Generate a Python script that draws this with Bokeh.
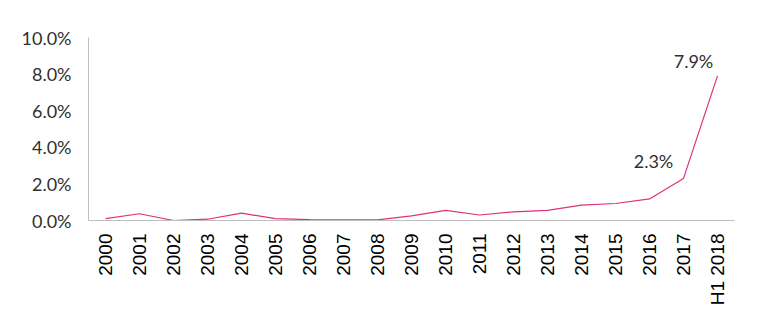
from bokeh.plotting import figure
from bokeh.models import ColumnDataSource, FactorRange, NumeralTickFormatter, FixedTicker, Range1d
from bokeh.core.properties import value
from bokeh.embed import file_html
from bokeh.resources import INLINE
import math

years = ["2000", "2001", "2002", "2003", "2004", "2005", "2006", "2007", "2008", "2009",
         "2010", "2011", "2012", "2013", "2014", "2015", "2016", "2017", "H1 2018"]
share = [0.001, 0.0037, 0.0, 0.0007, 0.0040, 0.0010, 0.0005, 0.0003, 0.0003, 0.0025,
         0.0055, 0.0030, 0.0047, 0.0055, 0.0084, 0.0093, 0.0118, 0.023, 0.079]
label_years = ["2017", "H1 2018"]
label_values = [0.023, 0.079]
label_texts = ["2.3%", "7.9%"]
y_ticks = [0.0, 0.02, 0.04, 0.06, 0.08, 0.10]

p = figure(width=764, height=320, x_range=FactorRange(*years), y_range=Range1d(0, 0.10),
           output_backend="svg", toolbar_location=None,
           min_border_left=88, min_border_right=30, min_border_top=37, min_border_bottom=100)
p.outline_line_color = None
p.grid.grid_line_color = None
p.background_fill_color = "white"
p.border_fill_color = "white"

p.line(x=years, y=share, line_color="#E0307E", line_width=1.2)

src = ColumnDataSource(dict(x=label_years, y=label_values, t=label_texts,
                            xo=[-30, -24], yo=[-17, -15]))
p.text(x="x", y="y", text="t", source=src, x_offset="xo", y_offset="yo",
       text_align="center", text_baseline="alphabetic",
       text_font=value("Lato"), text_font_size="18px", text_color="#303030")

p.yaxis.ticker = FixedTicker(ticks=y_ticks)
p.yaxis.formatter = NumeralTickFormatter(format="0.0%")
p.yaxis.major_tick_line_color = None
p.yaxis.minor_tick_line_color = None
p.yaxis.axis_line_color = "#BFBFBF"
p.yaxis.major_label_text_font = "Lato"
p.yaxis.major_label_text_font_size = "18px"
p.yaxis.major_label_text_color = "#303030"
p.yaxis.major_label_standoff = 11

p.xaxis.major_tick_line_color = None
p.xaxis.minor_tick_line_color = None
p.xaxis.axis_line_color = "#BFBFBF"
p.xaxis.major_label_orientation = math.pi / 2
p.xaxis.major_label_text_font = "Liberation Sans"
p.xaxis.major_label_text_font_size = "19px"
p.xaxis.major_label_text_color = "black"
p.xaxis.major_label_standoff = 7

open("out.html", "w").write(file_html(p, INLINE))
